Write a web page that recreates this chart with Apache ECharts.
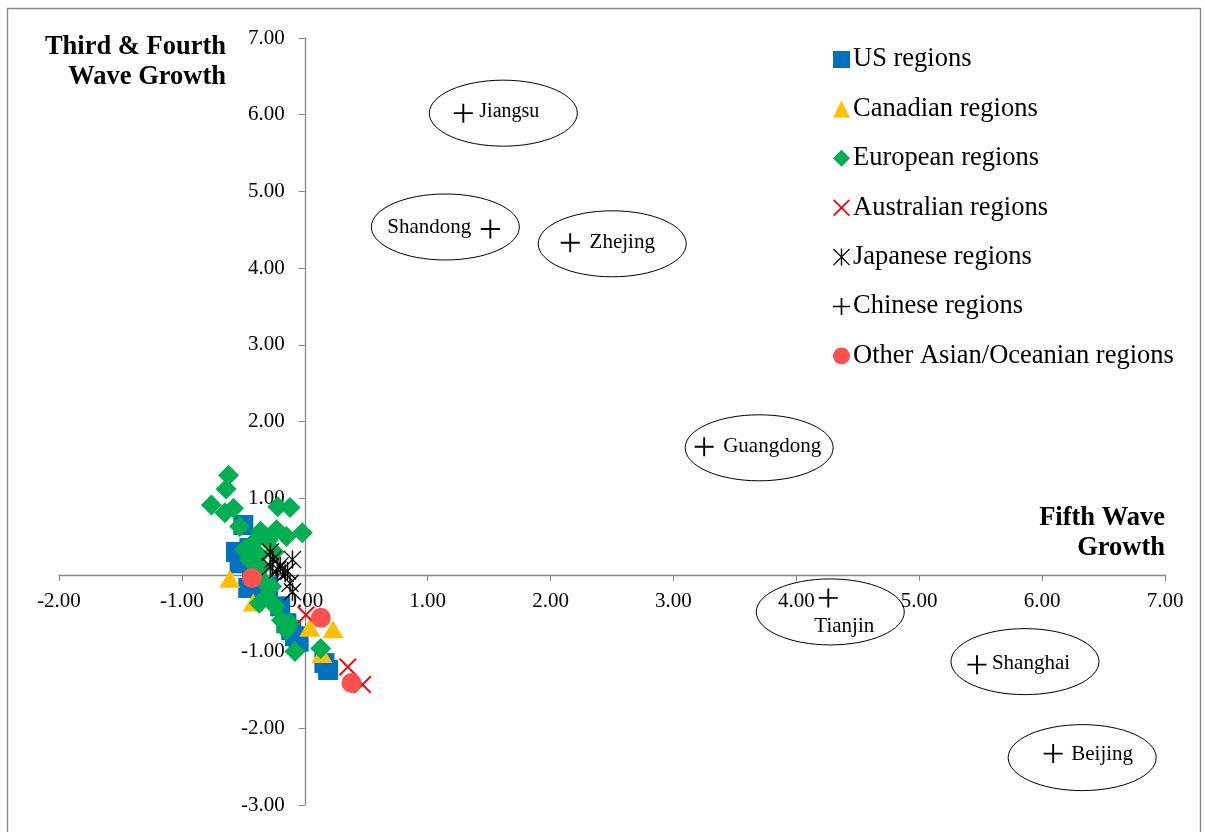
<!DOCTYPE html>
<html>
<head>
<meta charset="utf-8">
<script src="https://cdn.jsdelivr.net/npm/echarts@6/dist/echarts.min.js"></script>
<style>
  html, body { margin: 0; padding: 0; background: #fff; }
  #chart { width: 1205px; height: 832px; }
</style>
</head>
<body>
<div id="chart"></div>
<script>
// values, [fifth wave, third & fourth wave]
const usRegions = [
  [-0.50, 0.65], [-0.56, 0.30], [-0.53, 0.15], [-0.43, -0.11], [-0.46, -0.17],
  [-0.20, -0.41], [-0.15, -0.63], [-0.11, -0.72], [-0.08, -0.80], [-0.05, -0.87],
  [0.16, -1.15], [0.19, -1.24], [-0.30, -0.15], [-0.45, 0.35]
];
const canadianRegions = [
  [-0.61, -0.05], [-0.42, -0.36], [0.04, -0.69], [0.23, -0.71], [0.14, -1.03]
];
const europeanRegions = [
  [-0.62, 1.30], [-0.64, 1.12], [-0.76, 0.91], [-0.65, 0.81], [-0.58, 0.87],
  [-0.22, 0.89], [-0.12, 0.88], [-0.53, 0.63], [-0.36, 0.57], [-0.23, 0.59],
  [-0.15, 0.50], [-0.02, 0.55], [-0.49, 0.33], [-0.45, 0.20], [-0.37, 0.26],
  [-0.30, 0.45], [-0.40, 0.05], [-0.33, -0.10], [-0.27, -0.15], [-0.31, -0.28],
  [-0.37, -0.37], [-0.24, -0.41], [-0.12, -0.63], [-0.15, -0.72], [-0.08, -1.00],
  [0.13, -0.96], [-0.19, -0.59], [-0.35, 0.10], [-0.25, 0.30], [-0.42, 0.42]
];
const australianRegions = [[0.01, -0.52], [0.35, -1.20], [0.47, -1.43]];
const japaneseRegions = [
  [-0.28, 0.30], [-0.26, 0.20], [-0.10, 0.20], [-0.22, 0.07], [-0.16, 0.02],
  [-0.12, -0.11], [-0.10, -0.22], [-0.28, 0.11], [-0.20, 0.12], [-0.14, 0.05]
];
const chineseNames = ["Jiangsu", "Shandong", "Zhejing", "Guangdong", "Tianjin", "Shanghai", "Beijing"];
const chineseRegions = [
  [1.29, 6.02], [1.51, 4.51], [2.16, 4.33], [3.25, 1.67], [4.26, -0.30], [5.47, -1.17], [6.09, -2.33]
];
const otherAsianRegions = [[-0.43, -0.04], [0.13, -0.56], [0.38, -1.41]];

const seriesNames = [
  "US regions", "Canadian regions", "European regions", "Australian regions",
  "Japanese regions", "Chinese regions", "Other Asian/Oceanian regions"
];
const xTicks = { min: -2, max: 7, step: 1 };
const yTicks = { min: -3, max: 7, step: 1 };

// pixel offsets of the ellipse / text from each Chinese point
const callouts = [
  { ex: 40, ey: 0, tx: 46, ty: -1, fs: 20 },
  { ex: -45, ey: -2, tx: -61, ty: -1, fs: 21 },
  { ex: 42, ey: 1, tx: 52, ty: 0, fs: 21 },
  { ex: 55, ey: 1, tx: 68, ty: 0, fs: 21 },
  { ex: 2, ey: 14, tx: 16, ty: 29, fs: 21 },
  { ex: 48, ey: -3, tx: 54, ty: -1, fs: 21 },
  { ex: 29, ey: 4, tx: 49, ty: 1, fs: 21 }
];

const FONT = '"Liberation Serif", "Times New Roman", serif';
const GRID = { left: 59, right: 40, top: 38, bottom: 27 };
const plotW = 1205 - GRID.left - GRID.right;
const plotH = 832 - GRID.top - GRID.bottom;

const crossPath = "path://M1.5,0 L10,8.5 L18.5,0 L20,1.5 L11.5,10 L20,18.5 L18.5,20 L10,11.5 L1.5,20 L0,18.5 L8.5,10 L0,1.5 Z";
const plusPath = "path://M9,0 H11 V9 H20 V11 H11 V20 H9 V11 H0 V9 H9 Z";
const starPath = "path://M1,0 L10,9 L19,0 L20,1 L11,10 L20,19 L19,20 L10,11 L1,20 L0,19 L9,10 L0,1 Z M9.2,0 H10.8 V20 H9.2 Z";

const chart = echarts.init(document.getElementById("chart"));

function scatter(name, data, symbol, size, color) {
  return {
    name: name,
    type: "scatter",
    data: data,
    symbol: symbol,
    symbolSize: size,
    itemStyle: { color: color, opacity: 1 },
    emphasis: { disabled: true },
    clip: false
  };
}

// axes cross at zero: shift the axes inwards by the distance of zero from the edge
const yAxisOffset = -plotW * (0 - xTicks.min) / (xTicks.max - xTicks.min);
const xAxisOffset = -plotH * (0 - yTicks.min) / (yTicks.max - yTicks.min);

const option = {
  backgroundColor: "#fff",
  animation: false,
  grid: {
    left: GRID.left, right: GRID.right, top: GRID.top, bottom: GRID.bottom,
    outerBoundsMode: "none"
  },
  legend: {
    data: seriesNames,
    orient: "vertical",
    left: 828,
    top: 41,
    itemWidth: 17,
    itemHeight: 17,
    itemGap: 22.4,
    textStyle: { fontFamily: FONT, fontSize: 26.5, color: "#000", padding: [0, 0, 0, -2] }
  },
  xAxis: {
    type: "value",
    min: xTicks.min,
    max: xTicks.max,
    interval: xTicks.step,
    offset: xAxisOffset,
    splitLine: { show: false },
    axisLine: { onZero: false, lineStyle: { color: "#868686", width: 1.3 } },
    axisTick: { show: true, length: 6, lineStyle: { color: "#868686" } },
    axisLabel: {
      margin: 16,
      fontFamily: FONT,
      fontSize: 21,
      color: "#000",
      formatter: (v) => v.toFixed(2)
    }
  },
  yAxis: {
    type: "value",
    min: yTicks.min,
    max: yTicks.max,
    interval: yTicks.step,
    offset: yAxisOffset,
    splitLine: { show: false },
    axisLine: { onZero: false, lineStyle: { color: "#868686", width: 1.3 } },
    axisTick: { show: true, length: 6, lineStyle: { color: "#868686" } },
    axisLabel: {
      margin: 20,
      fontFamily: FONT,
      fontSize: 21,
      color: "#000",
      formatter: (v) => v.toFixed(2)
    }
  },
  graphic: [
    {
      type: "rect",
      shape: { x: 7.5, y: 8.5, width: 1193, height: 840 },
      style: { fill: "none", stroke: "#868686", lineWidth: 1.3 },
      silent: true
    },
    {
      type: "text",
      x: 226,
      y: 32,
      style: {
        text: "Third & Fourth\nWave Growth",
        align: "right",
        verticalAlign: "top",
        font: 'bold 26.5px "Liberation Serif"',
        lineHeight: 30,
        fill: "#000"
      }
    },
    {
      type: "text",
      x: 1165,
      y: 503,
      style: {
        text: "Fifth Wave\nGrowth",
        align: "right",
        verticalAlign: "top",
        font: 'bold 26.5px "Liberation Serif"',
        lineHeight: 30,
        fill: "#000"
      }
    }
  ],
  series: [
    scatter(seriesNames[0], usRegions, "rect", 20, "#0070C0"),
    scatter(seriesNames[1], canadianRegions, "triangle", [21, 18], "#FFC000"),
    scatter(seriesNames[2], europeanRegions, "diamond", 21, "#00B050"),
    scatter(seriesNames[3], australianRegions, crossPath, 18, "#FF0000"),
    scatter(seriesNames[4], japaneseRegions, starPath, 18, "#000000"),
    scatter(seriesNames[5], chineseRegions, plusPath, 19, "#000000"),
    scatter(seriesNames[6], otherAsianRegions, "circle", 20, "#FF5050"),
    {
      name: "callouts",
      type: "custom",
      data: chineseRegions,
      clip: false,
      silent: true,
      z: 1,
      renderItem: (params, api) => {
        const p = api.coord([api.value(0), api.value(1)]);
        const c = callouts[params.dataIndex];
        return {
          type: "group",
          children: [
            {
              type: "ellipse",
              shape: { cx: p[0] + c.ex, cy: p[1] + c.ey, rx: 74, ry: 33 },
              style: { fill: "none", stroke: "#000", lineWidth: 1 }
            },
            {
              type: "text",
              style: {
                text: chineseNames[params.dataIndex],
                x: p[0] + c.tx,
                y: p[1] + c.ty,
                align: "center",
                verticalAlign: "middle",
                font: c.fs + 'px "Liberation Serif"',
                fill: "#000"
              }
            }
          ]
        };
      }
    }
  ]
};

chart.setOption(option);
</script>
</body>
</html>
